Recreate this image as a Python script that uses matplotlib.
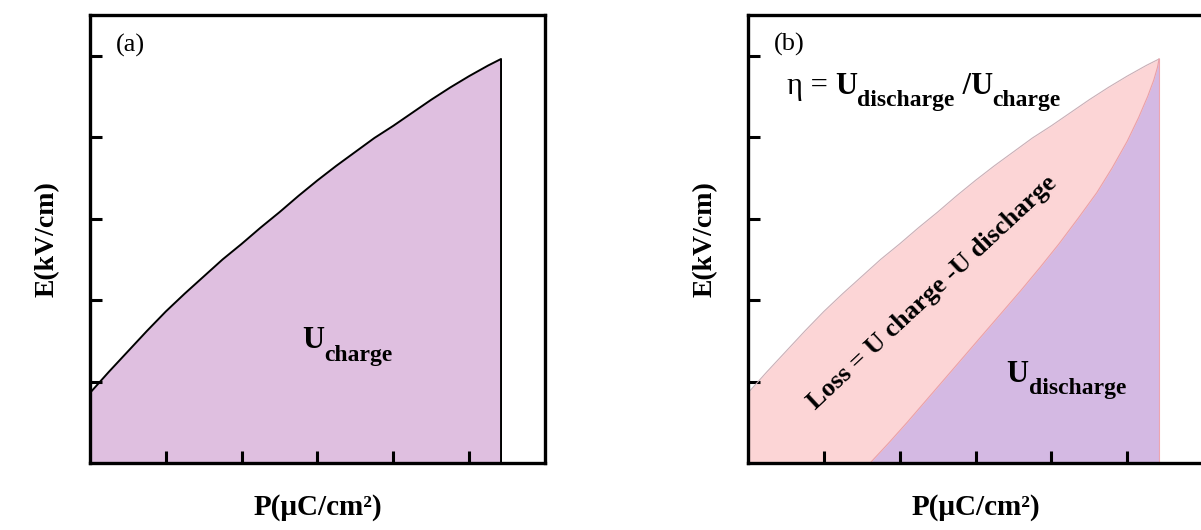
import matplotlib
matplotlib.use("Agg")
import matplotlib.pyplot as plt

plt.rcParams['font.family'] = ['Liberation Serif', 'DejaVu Serif']

# charging branch E(P)
p_charge = [0, 0.25, 0.5, 0.75, 1.0, 1.25, 1.5, 1.75, 2.0, 2.25, 2.5, 2.75, 3.0,
            3.25, 3.5, 3.75, 4.0, 4.25, 4.5, 4.75, 5.0, 5.25, 5.42]
e_charge = [0.86, 1.12, 1.37, 1.62, 1.86, 2.08, 2.29, 2.50, 2.69, 2.89, 3.08, 3.28, 3.47,
            3.65, 3.82, 3.99, 4.14, 4.30, 4.46, 4.61, 4.75, 4.88, 4.96]

# discharging branch E(P)
p_dis = [1.61, 1.85, 2.1, 2.35, 2.6, 2.85, 3.1, 3.35, 3.6, 3.85, 4.1, 4.35, 4.6,
         4.8, 5.0, 5.15, 5.27, 5.35, 5.40, 5.42]
e_dis = [0, 0.24, 0.50, 0.77, 1.04, 1.31, 1.58, 1.85, 2.12, 2.40, 2.69, 3.00, 3.32,
         3.62, 3.95, 4.24, 4.50, 4.70, 4.86, 4.96]

ticks_x = [1, 2, 3, 4, 5]
ticks_y = [1, 2, 3, 4, 5]


def chain_text(ax, x, y, parts, size=22, subsize=17, drop=7.5):
    """parts: list of (string, is_sub, weight) drawn one after another"""
    s, _, w = parts[0]
    first = ax.text(x, y, s, fontsize=size, fontweight=w, va='baseline')
    prev = first
    for s, is_sub, w in parts[1:]:
        prev = ax.annotate(s, xy=(1, 0), xycoords=(prev, first),
                           xytext=(0, -drop if is_sub else 0), textcoords='offset points',
                           fontsize=subsize if is_sub else size, fontweight=w,
                           ha='left', va='bottom')
    return first


fig = plt.figure(figsize=(12.01, 5.30), dpi=100)
ax1 = fig.add_axes([0.0749, 0.1264, 0.3789, 0.8453])
ax2 = fig.add_axes([0.6228, 0.1264, 0.3789, 0.8453])

for ax in (ax1, ax2):
    ax.set_xlim(0, 6)
    ax.set_ylim(0, 5.5)
    ax.set_xticks(ticks_x)
    ax.set_yticks(ticks_y)
    ax.tick_params(direction='in', length=8.5, width=2.2, labelbottom=False, labelleft=False)
    for s in ax.spines.values():
        s.set_linewidth(2.4)
    ax.set_xlabel('P(μC/cm²)', fontsize=21, fontweight='bold', labelpad=22)
    ax.set_ylabel('E(kV/cm)', fontsize=20, fontweight='bold', labelpad=22)

# (a) charging energy
ax1.fill_between(p_charge, e_charge, 0, color='#DFBFE0', lw=0)
ax1.plot(p_charge + [p_charge[-1], p_charge[-1]], e_charge + [0, 0], color='black', lw=1.4)
ax1.text(0.53, 5.12, '(a)', fontsize=19, ha='center', va='center')
chain_text(ax1, 2.80, 1.41, [('U', False, 'bold'), ('charge', True, 'bold')])

# (b) recoverable energy and loss
ax2.fill_between(p_charge, e_charge, 0, color='#FCD5D6', lw=0)
ax2.plot(p_charge, e_charge, color='#C9AEB6', lw=0.8)
ax2.plot([p_charge[-1], p_charge[-1]], [0, e_charge[-1]], color='#EDA6B0', lw=0.8)
ax2.fill_between(p_dis, e_dis, 0, color='#D4B9E3', lw=0)
ax2.plot(p_dis, e_dis, color='#E9A0A8', lw=0.8)
ax2.text(0.55, 5.14, '(b)', fontsize=19, ha='center', va='center')
chain_text(ax2, 0.51, 4.53, [('η = ', False, 'normal'), ('U', False, 'bold'),
                             ('discharge', True, 'bold'), (' /U', False, 'bold'),
                             ('charge', True, 'bold')])
chain_text(ax2, 3.41, 1.0, [('U', False, 'bold'), ('discharge', True, 'bold')])
ax2.text(2.43, 2.09, 'Loss = U charge -U discharge', fontsize=19, fontweight='bold',
         rotation=43, rotation_mode='anchor', ha='center', va='center')

fig.savefig('out.png', dpi=100)
